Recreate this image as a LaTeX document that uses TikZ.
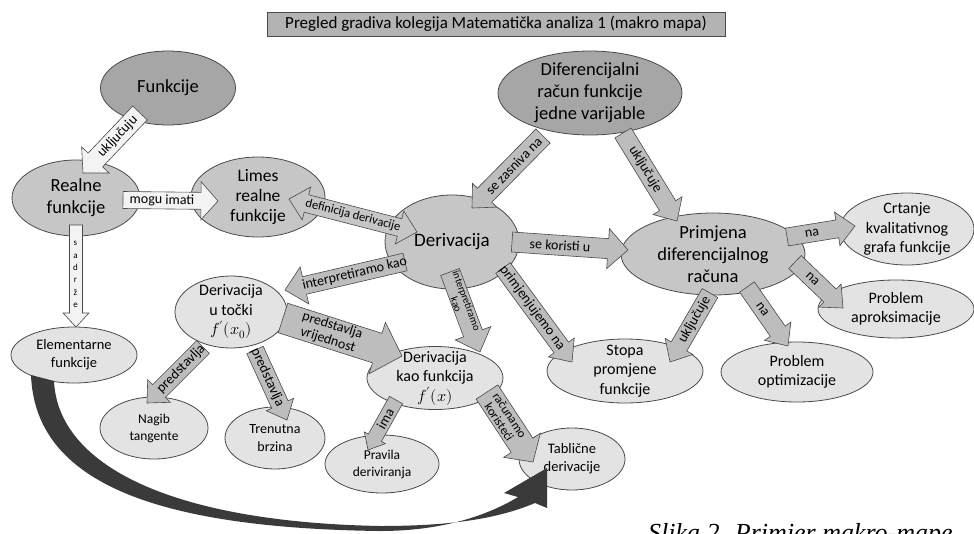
\documentclass[tikz,border=0pt]{standalone}
\usepackage{fontspec}
\usepackage{unicode-math}
\setmainfont{Carlito}
\newfontfamily\capfont{Liberation Serif}
\usetikzlibrary{shapes.geometric,calc}
\definecolor{cDark}{HTML}{A6A6A6}
\definecolor{cMid}{HTML}{C6C6C6}
\definecolor{cLite}{HTML}{E3E3E3}
\definecolor{cArrow}{HTML}{BDBDBD}
\definecolor{cWhite}{HTML}{F3F3F3}
\definecolor{cTitle}{HTML}{B3B3B3}
\definecolor{cCurve}{HTML}{3A3A3A}
\definecolor{cLine}{HTML}{4A4A4A}
\tikzset{
  bub/.style={ellipse, draw=cLine, line width=0.8pt, inner sep=0pt, align=center,
    font=\fontsize{18.5}{22}\selectfont},
  darkbub/.style={bub, fill=cDark},
  midbub/.style={bub, fill=cMid},
  litebub/.style={bub, fill=cLite, font=\fontsize{16}{19.5}\selectfont},
  arrowline/.style={draw=cLine, line width=0.6pt, line join=miter},
  alab/.style={font=\fontsize{14}{15}\selectfont, inner sep=0pt, align=center},
}
% block arrow: [label opts]{tail}{tip}{fill}{shaft hw}{head hw}{head len}{label}
\newcommand\barrow[8][]{%
  \coordinate (bt) at (#2);
  \coordinate (bp) at (#3);
  \coordinate (bh) at ($(bp)!#7!(bt)$);
  \filldraw[arrowline, fill=#4] ($(bt)!#5!90:(bp)$) -- ($(bh)!#5!90:(bp)$) --
    ($(bh)!#6!90:(bp)$) -- (bp) -- ($(bh)!#6!-90:(bp)$) -- ($(bh)!#5!-90:(bp)$) --
    ($(bt)!#5!-90:(bp)$) -- cycle;
  \path (bt) -- (bh) node[midway, sloped, alab, #1] {#8};
}
% double block arrow: {tipA}{tipB}{fill}{shaft hw}{head hw}{head len}{label}
\newcommand\dbarrow[7]{%
  \coordinate (da) at (#1);
  \coordinate (db) at (#2);
  \coordinate (ha) at ($(da)!#6!(db)$);
  \coordinate (hb) at ($(db)!#6!(da)$);
  \filldraw[arrowline, fill=#3] (da) -- ($(ha)!#5!90:(db)$) -- ($(ha)!#4!90:(db)$) --
    ($(hb)!#4!-90:(da)$) -- ($(hb)!#5!-90:(da)$) -- (db) -- ($(hb)!#5!90:(da)$) --
    ($(hb)!#4!90:(da)$) -- ($(ha)!#4!-90:(db)$) -- ($(ha)!#5!-90:(db)$) -- cycle;
  \path (ha) -- (hb) node[midway, sloped, alab, font=\fontsize{12.5}{13}\selectfont] {#7};
}
\begin{document}
\begin{tikzpicture}[x=1pt,y=-1pt]
\clip (0,0) rectangle (974,533);
\fill[white] (0,0) rectangle (974,533);

% title
\node[draw=cLine, line width=0.7pt, fill=cTitle, minimum width=458pt, minimum height=24pt,
  inner sep=0pt, font=\fontsize{17}{19}\selectfont] (title) at (496,24)
  {Pregled gradiva kolegija Matematička analiza 1 (makro mapa)};

% nodes
\node[darkbub, minimum width=135pt, minimum height=74pt] (fun) at (168,88) {Funkcije};
\node[midbub, minimum width=128pt, minimum height=76pt] (real) at (76,198) {Realne\\funkcije};
\node[midbub, minimum width=134pt, minimum height=80pt, font=\fontsize{17.5}{20}\selectfont] (lim) at (258,197) {Limes\\realne\\funkcije};
\node[midbub, minimum width=134pt, minimum height=94pt, font=\fontsize{19}{22}\selectfont] (der) at (452,242) {Derivacija};
\node[darkbub, minimum width=184pt, minimum height=84pt, inner ysep=-1pt] (dif) at (590,93) {Diferencijalni\\račun funkcije\\jedne varijable};
\node[midbub, minimum width=184pt, minimum height=82pt, inner ysep=-2pt] (prim) at (713,254) {Primjena\\diferencijalnog\\računa};
\node[litebub, minimum width=134pt, minimum height=72pt, inner ysep=-2pt] (crt) at (907,229) {Crtanje\\kvalitativnog\\grafa funkcije};
\node[litebub, minimum width=156pt, minimum height=58pt] (apr) at (896,309) {Problem\\aproksimacije};
\node[litebub, minimum width=152pt, minimum height=60pt] (opt) at (797,372) {Problem\\optimizacije};
\node[litebub, minimum width=156pt, minimum height=64pt, inner ysep=-5pt] (sto) at (625,371) {Stopa\\promjene\\funkcije};
\node[litebub, minimum width=112pt, minimum height=72pt, inner ysep=-3pt] (dut) at (231,312) {Derivacija\\u točki\\$f'(x_0)$};
\node[litebub, minimum width=136pt, minimum height=63pt, inner ysep=-6pt] (dkf) at (435,378) {Derivacija\\kao funkcija\\$f'(x)$};
\node[litebub, minimum width=126pt, minimum height=56pt, font=\fontsize{14.5}{18}\selectfont] (ele) at (74,355) {Elementarne\\funkcije};
\node[litebub, minimum width=108pt, minimum height=62pt, font=\fontsize{13.5}{17}\selectfont] (nag) at (154,428) {Nagib\\tangente};
\node[litebub, minimum width=100pt, minimum height=62pt, font=\fontsize{14}{17.5}\selectfont] (tre) at (275,438) {Trenutna\\brzina};
\node[litebub, minimum width=114pt, minimum height=58pt, font=\fontsize{13.5}{17}\selectfont] (pra) at (382,464) {Pravila\\deriviranja};
\node[litebub, minimum width=106pt, minimum height=62pt, font=\fontsize{14.5}{18}\selectfont] (tab) at (572,459) {Tablične\\derivacije};

% curved arrow Elementarne -> Tablicne
\coordinate (cs1) at ($(ele)+(-43,20)$);
\coordinate (cs2) at ($(ele)+(-20,26)$);
\coordinate (ctip) at ($(tab)+(-25,9)$);
\fill[cCurve] (cs1) .. controls (35,480) and (150,528) .. (380,531)
  .. controls (445,531) and (490,514) .. (518,497) -- (504,493) -- (ctip) -- (547,508) -- (535,503)
  .. controls (495,520) and (445,526) .. (380,526)
  .. controls (170,522) and (58,465) .. (cs2) -- cycle;

% arrows
\barrow{$(fun)+(-28,25)$}{$(real)+(7,-25)$}{cWhite}{10pt}{19pt}{18pt}{uključuju}
\barrow{$(real)+(47,2)$}{$(lim)+(-40,4)$}{cWhite}{8.5pt}{19pt}{17pt}{mogu imati}
\dbarrow{$(lim)+(31,2)$}{$(der)+(-35,-10)$}{cMid}{9pt}{17pt}{18pt}{definicija derivacije}
\barrow{$(dif)+(-47,43)$}{$(der)+(20,-34)$}{cArrow}{10pt}{17pt}{18pt}{se zasniva na}
\barrow{$(dif)+(33,40)$}{$(prim)+(-36,-33)$}{cArrow}{9.5pt}{17pt}{18pt}{uključuje}
\barrow{$(der)+(60,0)$}{$(prim)+(-85,-4)$}{cArrow}{10pt}{20pt}{20pt}{se koristi u}
\barrow{$(der)+(51,26)$}{$(sto)+(-53,-9)$}{cArrow}{9pt}{16pt}{18pt}{primjenjujemo na}
\barrow{$(der)+(-47,20)$}{$(dut)+(54,-22)$}{cArrow}{9pt}{19pt}{20pt}{interpretiramo kao}
\barrow[font=\fontsize{10.5}{11}\selectfont]{$(der)+(-2,30)$}{$(dkf)+(45,-26)$}{cArrow}{10pt}{19pt}{20pt}{interpretiramo\\kao}
\barrow{$(dut)+(52,6)$}{$(dkf)+(-33,-22)$}{cArrow}{15.5pt}{27pt}{26pt}{predstavlja\\vrijednost}
\barrow{$(dut)+(-28,35)$}{$(nag)+(-7,-25)$}{cArrow}{9pt}{16pt}{17pt}{predstavlja}
\barrow{$(dut)+(24,38)$}{$(tre)+(12,-18)$}{cArrow}{9pt}{15pt}{17pt}{predstavlja}
\barrow{$(dkf)+(-39,22)$}{$(pra)+(-14,-14)$}{cArrow}{7.5pt}{12pt}{14pt}{ima}
\barrow[font=\fontsize{12.5}{12.5}\selectfont]{$(dkf)+(52,14)$}{$(tab)+(-39,3)$}{cArrow}{13pt}{22pt}{20pt}{računamo\\koristeći}
\barrow{$(prim)+(-3,39)$}{$(sto)+(45,-9)$}{cArrow}{9pt}{16pt}{18pt}{uključuje}
\barrow{$(prim)+(34,33)$}{$(opt)+(-9,-26)$}{cArrow}{9pt}{16pt}{18pt}{na}
\barrow{$(prim)+(82,8)$}{$(apr)+(-53,-1)$}{cArrow}{9pt}{16pt}{18pt}{na}
\barrow{$(prim)+(74,-17)$}{$(crt)+(-52,-3)$}{cArrow}{9pt}{17pt}{18pt}{na}
\barrow{$(real)+(0,27)$}{$(ele)+(2,-28)$}{cWhite}{6.5pt}{13pt}{14pt}{}
\node[alab, font=\fontsize{9}{12.3}\selectfont] (sadr) at ($(real)!0.5!(ele)+(0.5,-2)$) {s\\a\\d\\r\\ž\\e};

% caption (cut off by the frame)
\node[anchor=base west, inner sep=0pt, font=\capfont\itshape\fontsize{26}{30}\selectfont] (cap) at (648,541) {Slika 2. Primjer makro-mape};
\end{tikzpicture}
\end{document}
